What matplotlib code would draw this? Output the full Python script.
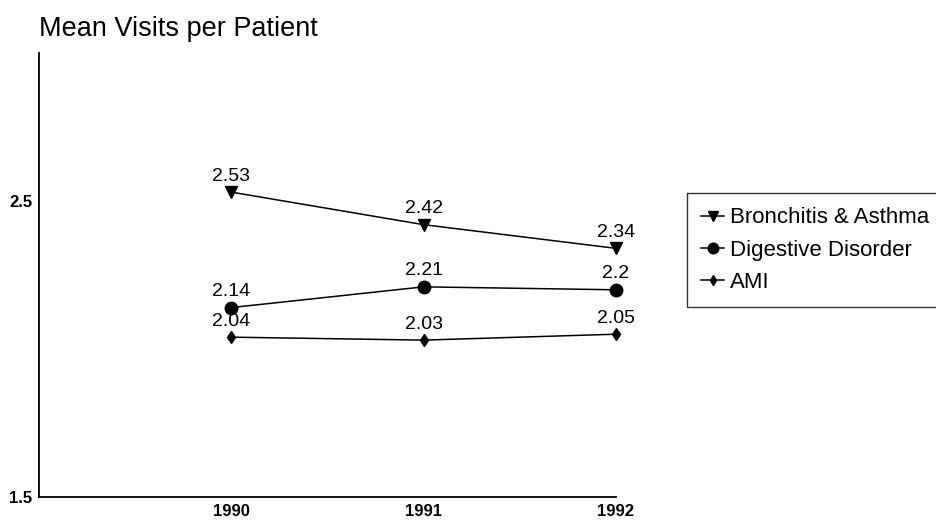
import matplotlib
matplotlib.use("Agg")
import matplotlib.pyplot as plt

plt.rcParams['font.family'] = ['Liberation Sans', 'DejaVu Sans']

years = [1990, 1991, 1992]
bronchitis = [2.53, 2.42, 2.34]
digestive = [2.14, 2.21, 2.20]
ami = [2.04, 2.03, 2.05]
series_names = ["Bronchitis & Asthma", "Digestive Disorder", "AMI"]
label_text = {
    "Bronchitis & Asthma": ["2.53", "2.42", "2.34"],
    "Digestive Disorder": ["2.14", "2.21", "2.2"],
    "AMI": ["2.04", "2.03", "2.05"],
}
ytick_vals = [1.5, 2.5]
ytick_labels = ["1.5", "2.5"]
xtick_labels = ["1990", "1991", "1992"]

fig = plt.figure(figsize=(9.36, 5.22), dpi=100)
ax = fig.add_axes([39/936, 25/522, 577/936, 444/522])

styles = [("v", 8), ("o", 9), ("d", 6.5)]
data = [bronchitis, digestive, ami]
for name, vals, (mk, ms) in zip(series_names, data, styles):
    ax.plot(years, vals, color="black", lw=1.1, marker=mk, markersize=ms,
            label=name, clip_on=False)
    for x, y, t in zip(years, vals, label_text[name]):
        ax.annotate(t, (x, y), xytext=(0, 11.5), textcoords="offset points",
                    ha="center", va="center", fontsize=14, color="black")

ax.set_xlim(1989, 1992)
ax.set_ylim(1.5, 3.0)
ax.set_yticks(ytick_vals)
ax.set_yticklabels(ytick_labels, fontsize=12, fontweight="bold")
ax.set_xticks(years)
ax.set_xticklabels(xtick_labels, fontsize=12, fontweight="bold")
ax.tick_params(length=0, pad=5)
for s in ["top", "right"]:
    ax.spines[s].set_visible(False)
for s in ["left", "bottom"]:
    ax.spines[s].set_linewidth(1.3)

fig.text(39/936, 1 - 36/522, "Mean Visits per Patient", fontsize=19.5,
         ha="left", va="baseline")

leg = fig.legend(loc="upper left", bbox_to_anchor=(687/936, 1 - 193/522),
                 frameon=True, fancybox=False, fontsize=16, handlelength=1.0,
                 handletextpad=0.3, labelspacing=0.5, borderpad=0.65,
                 borderaxespad=0, markerscale=0.85)
leg.get_frame().set_edgecolor("black")
leg.get_frame().set_linewidth(1.0)

fig.savefig("out.png", dpi=100)
